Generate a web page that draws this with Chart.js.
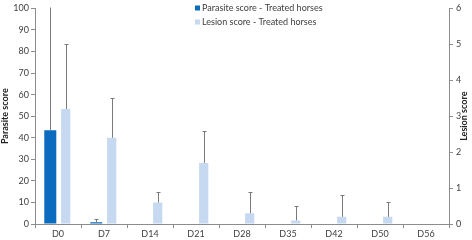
<!DOCTYPE html>
<html>
<head>
<meta charset="utf-8">
<script src="https://cdn.jsdelivr.net/npm/chart.js@4/dist/chart.umd.min.js"></script>
<style>
  html, body { margin: 0; padding: 0; background: #fff; }
  #wrap { width: 472px; height: 240px; position: relative; }
</style>
</head>
<body>
<div id="wrap"><canvas id="myChart"></canvas></div>
<script>
// data
const categories = ["D0", "D7", "D14", "D21", "D28", "D35", "D42", "D50", "D56"];
const parasiteScore = [43.5, 0.8, 0, 0, 0, 0, 0, 0, 0];
const parasiteSD = [62, 1.7, 0, 0, 0, 0, 0, 0, 0];
const lesionScore = [3.2, 2.4, 0.6, 1.7, 0.3, 0.1, 0.2, 0.2, 0];
const lesionSD = [1.8, 1.1, 0.3, 0.9, 0.6, 0.4, 0.6, 0.4, 0];
const parasiteTicks = [0, 10, 20, 30, 40, 50, 60, 70, 80, 90, 100];
const lesionTicks = [0, 1, 2, 3, 4, 5, 6];

const FONT = "'Liberation Sans Narrow', Lato, sans-serif";
const textColor = "#404040";
const axisColor = "#8c8c8c";

// upper error bars only, like the original
const errorBars = {
  id: "errorBars",
  afterDatasetsDraw(chart) {
    const ctx = chart.ctx;
    const area = chart.chartArea;
    ctx.save();
    ctx.beginPath();
    ctx.rect(area.left, area.top - 1, area.right - area.left, area.bottom - area.top + 1);
    ctx.clip();
    ctx.strokeStyle = "#7a7a7a";
    ctx.lineWidth = 1;
    chart.data.datasets.forEach((ds, i) => {
      const meta = chart.getDatasetMeta(i);
      const yScale = chart.scales[ds.yAxisID];
      meta.data.forEach((bar, j) => {
        const sd = ds.errors[j];
        if (!sd) return;
        const x = Math.round(bar.x) + 0.5;
        const y0 = yScale.getPixelForValue(ds.data[j]);
        const y1 = Math.round(yScale.getPixelForValue(ds.data[j] + sd)) + 0.5;
        ctx.beginPath();
        ctx.moveTo(x, y0);
        ctx.lineTo(x, y1);
        ctx.moveTo(x - 2, y1);
        ctx.lineTo(x + 2, y1);
        ctx.stroke();
      });
    });
    ctx.restore();
  }
};

// stacked legend near top + right axis title reading upwards
const extras = {
  id: "extras",
  afterDraw(chart) {
    const ctx = chart.ctx;
    ctx.save();
    ctx.font = "9px " + FONT;
    ctx.textBaseline = "middle";
    ctx.textAlign = "left";
    chart.data.datasets.forEach((ds, i) => {
      const y = 8 + i * 14;
      ctx.fillStyle = ds.backgroundColor;
      ctx.fillRect(195, y - 2.5, 5, 5);
      ctx.fillStyle = textColor;
      ctx.fillText(ds.label, 202, y);
    });
    const r = chart.scales.y1;
    ctx.translate(464, (chart.chartArea.top + chart.chartArea.bottom) / 2);
    ctx.rotate(-Math.PI / 2);
    ctx.textAlign = "center";
    ctx.font = "bold 9px " + FONT;
    ctx.fillStyle = "#222";
    ctx.fillText("Lesion score", 0, 0);
    ctx.restore();
  }
};

const chartData = {
  labels: categories,
  datasets: [
    {
      label: "Parasite score - Treated horses",
      data: parasiteScore,
      errors: parasiteSD,
      backgroundColor: "#0b6bbf",
      yAxisID: "y",
      barPercentage: 0.78,
      categoryPercentage: 0.67
    },
    {
      label: "Lesion score - Treated horses",
      data: lesionScore,
      errors: lesionSD,
      backgroundColor: "#c6d9f0",
      yAxisID: "y1",
      barPercentage: 0.6,
      categoryPercentage: 0.67
    }
  ]
};

const config = {
  type: "bar",
  data: chartData,
  options: {
    responsive: true,
    maintainAspectRatio: false,
    animation: false,
    layout: { padding: { top: 4, right: 0, left: 0, bottom: 0 } },
    plugins: {
      legend: { display: false },
      tooltip: { enabled: false }
    },
    scales: {
      x: {
        offset: true,
        grid: { offset: true, drawOnChartArea: false, tickLength: 4, color: axisColor },
        border: { color: axisColor },
        ticks: { font: { family: FONT, size: 9 }, color: textColor, padding: 1 },
        afterFit: (scale) => { scale.height = 16; }
      },
      y: {
        position: "left",
        min: 0,
        max: 100,
        afterBuildTicks: (scale) => { scale.ticks = parasiteTicks.map(v => ({ value: v })); },
        grid: { drawOnChartArea: false, tickLength: 4, color: axisColor },
        border: { color: axisColor },
        ticks: { font: { family: FONT, size: 9 }, color: textColor, padding: 2 },
        title: {
          display: true,
          text: "Parasite score",
          font: { family: FONT, size: 9, weight: "bold" },
          color: "#222",
          padding: 0
        },
        afterFit: (scale) => { scale.width = 35; }
      },
      y1: {
        position: "right",
        min: 0,
        max: 6,
        afterBuildTicks: (scale) => { scale.ticks = lesionTicks.map(v => ({ value: v })); },
        grid: { drawOnChartArea: false, tickLength: 4, color: axisColor },
        border: { color: axisColor },
        ticks: { font: { family: FONT, size: 9 }, color: textColor, padding: 3 },
        afterFit: (scale) => { scale.width = 23; }
      }
    }
  },
  plugins: [errorBars, extras]
};

document.addEventListener("DOMContentLoaded", () => {
  new Chart(document.querySelector("#myChart"), config);
});
</script>
</body>
</html>
